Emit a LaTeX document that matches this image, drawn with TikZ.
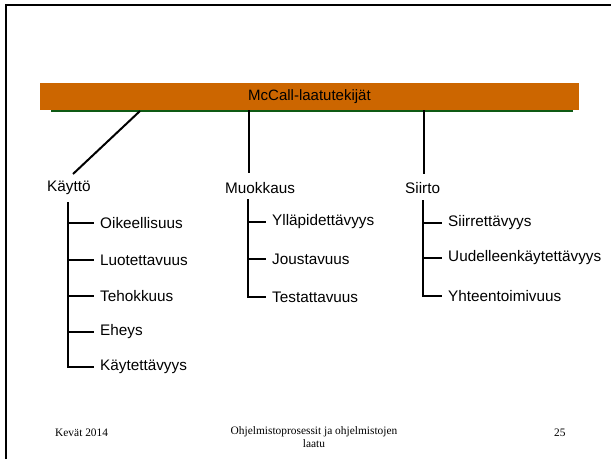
\documentclass[tikz,border=0pt]{standalone}
\usepackage{fontspec}
\setmainfont{Liberation Sans}
\newfontfamily\timesf{Liberation Serif}
\definecolor{barorange}{HTML}{CC6600}
\definecolor{bargreen}{HTML}{0E5A14}
\begin{document}
\begin{tikzpicture}[x=1pt,y=-1pt,
  lbl/.style={anchor=west,inner sep=0pt,font=\fontsize{15.3}{18}\selectfont},
  item/.style={anchor=west,inner sep=3pt,font=\fontsize{15.3}{18}\selectfont},
  conn/.style={line width=2pt,black},
  foot/.style={inner sep=0pt,font=\timesf\fontsize{11.4}{13.5}\selectfont,align=center}]
\useasboundingbox (0,0) rectangle (611,459);
% slide frame
\draw[line width=2pt] (6,459) -- (6,5) -- (611,5);
% green shadow line and title bar
\draw[bargreen,line width=2.5pt] (51,111) coordinate (g1) -- (573,111) coordinate (g2);
\node[fill=barorange,minimum width=539pt,minimum height=27pt,inner sep=0pt,
      font=\fontsize{15}{18}\selectfont] (bar) at (309.5,96.5) {McCall-laatutekijät};
% categories
\node[lbl] (kay) at (47,188) {Käyttö};
\node[lbl] (muo) at (225,188) {Muokkaus};
\node[lbl] (sii) at (405,188) {Siirto};
% connectors from bar
\coordinate (b1) at (140,111);
\coordinate (k0) at (73,174);
\draw[conn] (b1) -- (k0);
\coordinate (b2) at (249,110);
\coordinate (m0) at (249,173);
\draw[conn] (b2) -- (m0);
\coordinate (b3) at (424,110);
\coordinate (s0) at (424,174);
\draw[conn] (b3) -- (s0);
% Käyttö items
\coordinate (kt) at (68,202);
\node[item] (k1) at (97,223) {Oikeellisuus};
\node[item] (k2) at (97,260) {Luotettavuus};
\node[item] (k3) at (97,296) {Tehokkuus};
\node[item] (k4) at (97,332) {Eheys};
\node[item] (k5) at (97,367) {Käytettävyys};
\foreach \n in {k1,k2,k3,k4,k5}
  \draw[conn,shorten >=3pt] (kt) |- (\n.west);
% Muokkaus items
\coordinate (mt) at (248,199);
\node[item] (m1) at (269,222) {Ylläpidettävyys};
\node[item] (m2) at (269,259) {Joustavuus};
\node[item] (m3) at (269,297) {Testattavuus};
\foreach \n in {m1,m2,m3}
  \draw[conn,shorten >=3pt] (mt) |- (\n.west);
% Siirto items
\coordinate (st) at (423,200);
\node[item] (s1) at (445,223) {Siirrettävyys};
\node[item] (s2) at (445,258) {Uudelleenkäytettävyys};
\node[item] (s3) at (445,296) {Yhteentoimivuus};
\foreach \n in {s1,s2,s3}
  \draw[conn,shorten >=3pt] (st) |- (\n.west);
% footer
\node[foot,anchor=west] (f1) at (55,433) {Kevät 2014};
\node[foot,anchor=north] (f2) at (314,426) {Ohjelmistoprosessit ja ohjelmistojen\\laatu};
\node[foot,anchor=west] (f3) at (554,433) {25};
\end{tikzpicture}
\end{document}
